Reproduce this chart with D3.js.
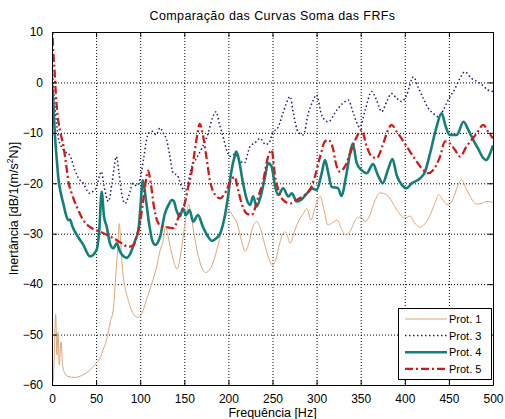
<!DOCTYPE html>
<html>
<head>
<meta charset="utf-8">
<script src="https://cdn.jsdelivr.net/npm/d3@7"></script>
<style>
  html, body { margin: 0; padding: 0; background: #fff; }
  svg { display: block; font-family: "Liberation Sans", Arial, sans-serif; }
</style>
</head>
<body>
<svg id="chart" width="505" height="419"></svg>
<script>
// Frequency axis ticks (Hz) and inertance ticks (dB)
const xTicks = [0, 50, 100, 150, 200, 250, 300, 350, 400, 450, 500];
const yTicks = [10, 0, -10, -20, -30, -40, -50, -60];

// Summed FRF curves: [frequency Hz, inertance dB]
const prot1 = [
  [0, -58], [1, -59.5], [2, -57], [4.2, -46], [5.5, -54], [6.8, -49.5], [8.2, -56],
  [10.2, -51.5], [12, -56], [14, -57.5], [18, -58.3], [26, -58.5], [35, -58],
  [42, -57.2], [50, -55.7], [55, -54.5], [58, -53], [62, -51], [66, -47.5],
  [69.5, -45], [72, -39], [74.5, -33], [76.3, -28], [78, -32], [80, -37],
  [86.5, -43.2], [92, -45.8], [97, -46.6], [102, -45.8], [107, -43.1], [113, -40],
  [118.7, -36.5], [123, -33], [126, -31.5], [129, -28.5], [131, -30], [134, -32.5],
  [138, -35.5], [142, -37], [146, -34], [150, -29], [153, -25.5], [155, -24.2],
  [157, -25.5], [161, -30], [166, -34.5], [170, -36.8], [174, -37.7], [178, -37.3],
  [184, -35], [190, -31], [196, -27], [201, -25.5], [205, -26.5], [210, -28],
  [215, -31.5], [219, -33.5], [223, -32], [228, -28.5], [232, -27.6], [236, -28.8],
  [241, -32], [246, -35], [250, -36.2], [254, -35], [258, -32], [262, -29.9],
  [264, -29.6], [267, -30.5], [270, -31.9], [275, -29.5], [280, -27.3], [285, -26],
  [289, -25], [293.6, -27.3], [298, -25], [304, -22.6], [308, -25], [313, -28.3],
  [318, -27.8], [323.5, -27.3], [328, -29], [333, -30.2], [338, -29.5], [345, -27],
  [350, -26.7], [355, -27.6], [360, -26.5], [366, -23.5], [372, -21.9],
  [379.5, -22.3], [385, -23.5], [391, -25.3], [400, -26.9], [406, -26.5],
  [411, -27.8], [417, -28.7], [423, -28], [428.6, -26.3], [434, -24], [438.8, -22.3],
  [444, -23.5], [449, -24.3], [455, -23], [460, -20.5], [464.5, -19.3], [469, -20.8],
  [474, -22.6], [481.5, -24.1], [487, -24], [493, -23.6], [500, -23.8]
];

const prot3 = [
  [0, 4], [2, -2], [4, -6], [7, -10.8], [10, -12.5], [14.7, -13.7], [20, -14.4],
  [26, -17.4], [30, -19], [35.5, -20], [40, -21.5], [43, -22], [47, -21.5],
  [50.6, -20.7], [53, -19], [56, -17.7], [59, -20.5], [64, -23.6], [68, -20],
  [73, -14.7], [76, -18], [79, -22], [83, -24], [87, -22.5], [92, -20], [96, -20.5],
  [100, -19], [104, -15], [107, -11.5], [110, -10], [114, -9.7], [118, -10.4],
  [122.5, -9], [126, -10], [130, -11.4], [133, -14], [137.5, -18], [142, -18.4],
  [148, -21], [152, -21.3], [158, -17], [164, -15], [170, -13], [177, -10.1],
  [182, -7], [186, -5.8], [190, -8.4], [194, -10.8], [198, -13.4], [202, -14.7],
  [207.5, -14.2], [213, -15.5], [218, -16], [224.5, -12.7], [230, -12],
  [236, -11.1], [242, -12.3], [246, -12], [250, -10.1], [256.6, -8.8], [262, -6],
  [266, -4], [270, -2.8], [273.6, -6.1], [279, -9.8], [285, -10.4], [290.6, -6.1],
  [295, -4], [300, -2.5], [305.8, -6.5], [313, -7.8], [322.8, -5.5], [330, -4.1],
  [336, -3.5], [341.6, -6.1], [349, -8.9], [355, -5.5], [362.5, -1.8], [368, -3.5],
  [373.8, -5.8], [379.5, -3.8], [385, -2.2], [391, -3.2], [396.6, -3.8],
  [402, -2.5], [409.7, 1.1], [415, -0.9], [421, -3.2], [426.5, -5.1], [432, -6.1],
  [438, -6.8], [443.6, -5.5], [449, -3.5], [457, -1.2], [462.5, 0.8], [468, 2.1],
  [475.6, 0.8], [483, 0.1], [488.6, -0.6], [494, -1.5], [500, -1.8]
];

const prot4 = [
  [0, 0], [1.5, -4], [3.5, -11], [5.3, -15], [7.2, -19], [10, -22], [12.8, -24],
  [15.5, -26], [18.5, -27.3], [20.5, -27.2], [23, -28.5], [28, -30.2],
  [35.5, -32.2], [43, -34.5], [50.6, -33.2], [53.6, -29.3], [56.3, -21.7],
  [59, -26.6], [62, -28.6], [65.7, -31.9], [69.5, -32.9], [73.4, -31.9],
  [77, -33.5], [80, -34.3], [84.7, -34.8], [88, -34.2], [92, -32.5], [95, -31],
  [98, -29.3], [100, -25.3], [103, -19.4], [106.5, -23.3], [110, -27.9],
  [113.5, -31.2], [117, -32.2], [122.5, -30.6], [128, -26], [133, -24],
  [135.7, -23.3], [138, -23.5], [141, -25.3], [145, -26.6], [148.5, -25],
  [152, -26.3], [156, -25.3], [160, -27.6], [165.5, -26.3], [171, -28.6],
  [177, -30.6], [181, -31.4], [184, -31.2], [190, -30.2], [195, -27.3],
  [199, -23.3], [203, -18], [207, -14.7], [209, -13.7], [212, -15.4], [216, -19.4],
  [221, -23.3], [224.5, -24.3], [228, -22.6], [232, -24.6], [236.6, -22.6],
  [241.5, -18.7], [245, -16], [249, -16.7], [253, -20.7], [256.6, -22.3],
  [262, -21], [268, -22.6], [272, -22], [277.5, -23.6], [283, -23.2], [289, -22],
  [294.5, -21], [300, -21.3], [305.8, -18], [309.5, -15.4], [313.3, -18],
  [317, -20.7], [324.6, -21], [328, -22.5], [334, -18], [338, -14], [341, -12.1],
  [345.5, -16], [351, -17.4], [356.8, -18], [364, -16.2], [369.5, -18.4],
  [375, -20], [380.7, -17.4], [386, -15.2], [390.8, -18.4], [396.5, -20.3],
  [401.5, -21], [408, -20], [417.5, -19], [423, -17.7], [428.6, -14.1],
  [436, -8.8], [441.7, -6.1], [446.5, -8.8], [451, -10.4], [459, -10.4],
  [466.5, -7.8], [472, -9.4], [477.6, -11.4], [483, -13.1], [489, -15],
  [492.5, -15.4], [496, -14.4], [500, -12.5]
];

const prot5 = [
  [0, 12], [1.5, 6], [3, 2], [4.3, -2.2], [6, -6], [9, -9.5], [12.8, -12.5],
  [16.6, -17], [19, -20], [22.3, -22], [28, -24.6], [35.5, -27.3], [45, -28.9],
  [54.4, -29.6], [62, -30.2], [69.5, -30.9], [79, -31.9], [86.5, -32.6],
  [92, -32.3], [96, -30.5], [100, -27.5], [103.5, -23.3], [106, -20], [109, -17.5],
  [112, -20], [115, -24], [119, -27.3], [124.5, -28.6], [130, -28.7],
  [137.5, -28.9], [145, -26], [150.5, -24], [154.5, -20.7], [158, -18],
  [162, -13.4], [165, -10.1], [167.5, -8.2], [171.5, -10.8], [175, -14.7],
  [179, -19.4], [185, -22.3], [190.5, -23], [196, -22], [203, -19.4], [207, -18.7],
  [211, -21.3], [215, -24], [220.7, -26], [226.4, -26.3], [231, -24.5],
  [234, -22.6], [239.6, -19.4], [245, -14.7], [249, -13.4], [253, -18.7],
  [256.6, -21.3], [262, -23.3], [270, -24], [277.5, -23.3], [285, -22.5],
  [292.5, -21.3], [298, -18.7], [304, -14.7], [309.5, -11.7], [313.3, -11.4],
  [319, -13.4], [321, -15.4], [326.5, -17.7], [332, -16.7], [338, -14.1],
  [345.5, -10.8], [351, -9.4], [356.8, -12.7], [362.5, -14.7], [368, -15],
  [375.6, -12.1], [381, -9.4], [385, -8.4], [391, -9.8], [400, -12.1],
  [409.7, -14.7], [419, -17], [426.7, -18], [432, -17.4], [440, -14.7],
  [445.6, -11.7], [451, -12.1], [457, -13.4], [462.6, -14.7], [470, -12.7],
  [481.5, -10.1], [489, -8.4], [494.6, -9.8], [500, -11.1]
];

const series = [
  { name: "Prot. 1", data: prot1, color: "#dda67a", width: 1,   dash: null },
  { name: "Prot. 3", data: prot3, color: "#1d1d72", width: 1.5, dash: "1.5,2.5" },
  { name: "Prot. 4", data: prot4, color: "#137f78", width: 2.6, dash: null },
  { name: "Prot. 5", data: prot5, color: "#d01b1b", width: 2.3, dash: "8,3,2,3" }
];

const svg = d3.select("#chart");
const m = { left: 52, right: 493, top: 32, bottom: 385 };

const x = d3.scaleLinear().domain([0, 500]).range([m.left, m.right]);
const y = d3.scaleLinear().domain([-60, 10]).range([m.bottom, m.top]);

// Dotted grid
const grid = svg.append("g").attr("stroke", "#000").attr("stroke-width", 1)
  .attr("stroke-dasharray", "1,2");
xTicks.slice(1, -1).forEach(t => {
  grid.append("line").attr("x1", x(t) + 0.5).attr("x2", x(t) + 0.5)
    .attr("y1", m.top).attr("y2", m.bottom);
});
yTicks.slice(1, -1).forEach(t => {
  grid.append("line").attr("y1", y(t) + 0.5).attr("y2", y(t) + 0.5)
    .attr("x1", m.left).attr("x2", m.right);
});

// Curves, clipped to the axes box
svg.append("clipPath").attr("id", "plot-clip").append("rect")
  .attr("x", m.left).attr("y", m.top)
  .attr("width", m.right - m.left).attr("height", m.bottom - m.top);

const line = d3.line()
  .x(d => x(d[0])).y(d => y(d[1]))
  .curve(d3.curveMonotoneX);

const curves = svg.append("g").attr("clip-path", "url(#plot-clip)");
series.forEach(s => {
  curves.append("path")
    .datum(s.data)
    .attr("d", line)
    .attr("fill", "none")
    .attr("stroke", s.color)
    .attr("stroke-width", s.width)
    .attr("stroke-dasharray", s.dash)
    .attr("stroke-linejoin", "round");
});

// Axes with inward ticks on all four sides
const fontSize = 12;
const axisBottomG = svg.append("g").attr("transform", `translate(0,${m.bottom})`)
  .call(d3.axisBottom(x).tickValues(xTicks).tickSizeInner(-5).tickSizeOuter(0).tickPadding(9));
const axisTopG = svg.append("g").attr("transform", `translate(0,${m.top})`)
  .call(d3.axisTop(x).tickValues(xTicks).tickSizeInner(-5).tickSizeOuter(0).tickFormat(""));
const axisLeftG = svg.append("g").attr("transform", `translate(${m.left},0)`)
  .call(d3.axisLeft(y).tickValues(yTicks).tickSizeInner(-5).tickSizeOuter(0).tickPadding(9));
const axisRightG = svg.append("g").attr("transform", `translate(${m.right},0)`)
  .call(d3.axisRight(y).tickValues(yTicks).tickSizeInner(-5).tickSizeOuter(0).tickFormat(""));

[axisBottomG, axisTopG, axisLeftG, axisRightG].forEach(g => {
  g.selectAll("path.domain").attr("stroke", "#000").attr("stroke-width", 1);
  g.selectAll(".tick line").attr("stroke", "#000");
  g.selectAll(".tick text").attr("fill", "#000")
    .attr("font-size", fontSize).attr("font-family", "Liberation Sans, Arial, sans-serif");
});

// Titles
svg.append("text")
  .attr("x", (m.left + m.right) / 2).attr("y", 20)
  .attr("text-anchor", "middle").attr("font-size", 12.5)
  .attr("letter-spacing", 0.4)
  .text("Comparação das Curvas Soma das FRFs");

svg.append("text")
  .attr("x", (m.left + m.right) / 2).attr("y", 417)
  .attr("text-anchor", "middle").attr("font-size", 12.5)
  .text("Frequência [Hz]");

const ylab = svg.append("text")
  .attr("transform", `translate(18,${(m.top + m.bottom) / 2}) rotate(-90)`)
  .attr("text-anchor", "middle").attr("font-size", 12.5);
ylab.append("tspan").text("Inertância [dB/1(m/s");
ylab.append("tspan").attr("dy", -5).attr("font-size", 8.5).text("2");
ylab.append("tspan").attr("dy", 5).text("N)]");

// Legend
const lg = svg.append("g");
lg.append("rect").attr("x", 398.5).attr("y", 308.5).attr("width", 93).attr("height", 71)
  .attr("fill", "#fff").attr("stroke", "#000").attr("stroke-width", 1);
series.forEach((s, i) => {
  const yy = 319 + i * 16.6;
  lg.append("line").attr("x1", 405).attr("x2", 447).attr("y1", yy).attr("y2", yy)
    .attr("stroke", s.color).attr("stroke-width", s.width)
    .attr("stroke-dasharray", s.dash);
  lg.append("text").attr("x", 449).attr("y", yy + 4)
    .attr("font-size", 11).text(s.name);
});
</script>
</body>
</html>
